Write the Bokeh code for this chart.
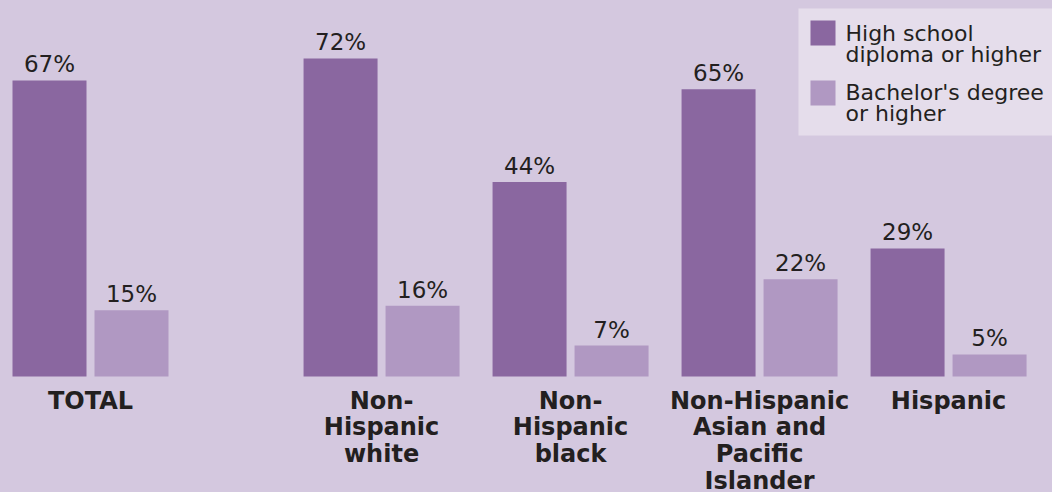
from bokeh.plotting import figure
from bokeh.models import Range1d
from bokeh.core.properties import value
from bokeh.embed import file_html
from bokeh.resources import INLINE

categories = ["TOTAL", "Non-\nHispanic\nwhite", "Non-\nHispanic\nblack",
              "Non-Hispanic\nAsian and\nPacific\nIslander", "Hispanic"]
high_school = [67, 72, 44, 65, 29]
bachelor = [15, 16, 7, 22, 5]
group_pos = [0.0, 1.54, 2.54, 3.54, 4.54]
legend_labels = ["High school\ndiploma or higher", "Bachelor's degree\nor higher"]

DARK = "#8a67a0"
LIGHT = "#b098c2"
BG = "#d4c8df"
LEG_BG = "#e5ddeb"
TXT = "#231f20"

W, H = 1052, 492
SX = 189.0      # px per group unit
X0PX = 90.0     # px of group 0 centre
SY = 4.418      # px per percent
BASE = 376.0    # px of baseline
SHIFT = 9       # text baseline correction


def xd(px):
    return (px - X0PX) / SX


def yd(py):
    return (BASE - py) / SY


p = figure(width=W, height=H, output_backend="svg", toolbar_location=None,
           x_range=Range1d(xd(0), xd(W)), y_range=Range1d(yd(H), yd(0)),
           min_border=0, x_axis_location=None, y_axis_location=None)
p.background_fill_color = BG
p.border_fill_color = BG
p.outline_line_color = None
p.xgrid.visible = False
p.ygrid.visible = False

bw = 74 / SX
off = 41 / SX
xs_d = [g - off for g in group_pos]
xs_l = [g + off for g in group_pos]

p.vbar(x=xs_d, top=high_school, bottom=0, width=bw, fill_color=DARK, line_color=None)
p.vbar(x=xs_l, top=bachelor, bottom=0, width=bw, fill_color=LIGHT, line_color=None)

gap = (7 + SHIFT) / SY
p.text(x=xs_d + xs_l,
       y=[v + gap for v in high_school + bachelor],
       text=[f"{v}%" for v in high_school + bachelor],
       text_font=value("DejaVu Sans"), text_font_size="23px",
       text_align="center", text_baseline="alphabetic", text_color=TXT)

lx, ly, lt = [], [], []
for g, cat in zip(group_pos, categories):
    for i, line in enumerate(cat.split("\n")):
        lx.append(g)
        ly.append(yd(409 - SHIFT + i * 26.7))
        lt.append(line)
p.text(x=lx, y=ly, text=lt, text_font=value("DejaVu Sans"), text_font_size="24px",
       text_font_style="bold", text_align="center", text_baseline="alphabetic",
       text_color=TXT)

# legend
p.quad(left=[xd(798)], right=[xd(1060)], top=[yd(8)], bottom=[yd(135)],
       fill_color=LEG_BG, line_color=None)
p.quad(left=[xd(810), xd(810)], right=[xd(835), xd(835)],
       top=[yd(20), yd(80)], bottom=[yd(45), yd(105)],
       fill_color=[DARK, LIGHT], line_color=None)
tx, ty, tt = [], [], []
for base, lab in zip([42, 101], legend_labels):
    for i, line in enumerate(lab.split("\n")):
        tx.append(xd(845))
        ty.append(yd(base - SHIFT + i * 21))
        tt.append(line)
p.text(x=tx, y=ty, text=tt, text_font=value("DejaVu Sans"), text_font_size="22px",
       text_align="left", text_baseline="alphabetic", text_color=TXT)

html = file_html(p, INLINE)
html = html.replace("</head>",
                    "<style>html,body{margin:0;padding:0;background:%s;overflow:hidden;}</style></head>" % BG, 1)
open("out.html", "w").write(html)
